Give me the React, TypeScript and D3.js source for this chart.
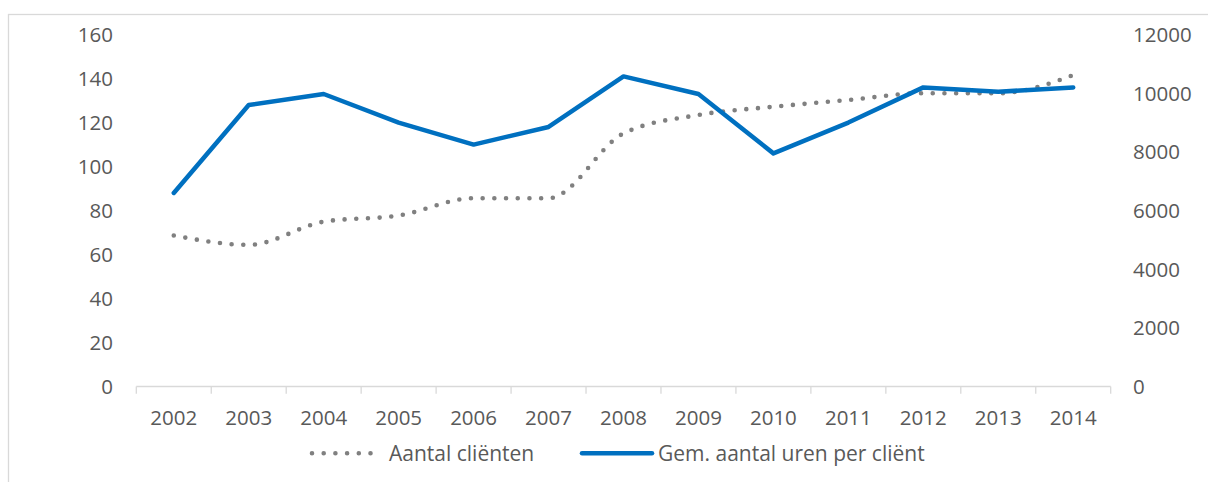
import React from "react";
import * as d3 from "d3";

const years = ["2002","2003","2004","2005","2006","2007","2008","2009","2010","2011","2012","2013","2014"];
const clients = [5150, 4830, 5620, 5830, 6420, 6420, 8630, 9260, 9540, 9770, 10000, 10000, 10620];
const hoursPerClient = [88, 128, 133, 120, 110, 118, 141, 133, 106, 120, 136, 134, 136];
const leftTicks = [0, 20, 40, 60, 80, 100, 120, 140, 160];
const rightTicks = [0, 2000, 4000, 6000, 8000, 10000, 12000];
const seriesNames = ["Aantal cliënten", "Gem. aantal uren per cliënt"];

const W = 1208, H = 482;
const FONT = "'Open Sans', sans-serif";
const TXT = "#595959";
const GRID = "#d9d9d9";
const BLUE = "#0070C0";
const GREY = "#808080";

export default function App() {
  const x = d3.scaleBand<string>().domain(years).range([136.3, 1110.7]).padding(0);
  const yL = d3.scaleLinear().domain([0, 160]).range([386.5, 34.6]);
  const yR = d3.scaleLinear().domain([0, 12000]).range([386.5, 34.6]);
  const cx = (y: string) => (x(y) as number) + x.bandwidth() / 2;

  const dotted = d3.line<number>()
    .x((_, i) => cx(years[i]))
    .y((d) => yR(d))
    .curve(d3.curveMonotoneX)(clients) as string;
  const solid = d3.line<number>()
    .x((_, i) => cx(years[i]))
    .y((d) => yL(d))(hoursPerClient) as string;

  const boundaries = years.map((y) => x(y) as number).concat([x.range()[1]]);
  const base = yL(0);

  return (
    <svg width={W} height={H} style={{ position: "absolute", left: 0, top: 0 }} fontFamily={FONT}>
      <rect x={0} y={0} width={W} height={H} fill="#fff" />
      <rect x={8.5} y={14.5} width={1230} height={500} fill="none" stroke={GRID} strokeWidth={1.3} />
      {/* x axis */}
      <line x1={x.range()[0]} x2={x.range()[1]} y1={base} y2={base} stroke={GRID} strokeWidth={1.3} />
      {boundaries.map((b, i) => (
        <line key={i} x1={b} x2={b} y1={base} y2={base + 7.3} stroke={GRID} strokeWidth={1.3} />
      ))}
      {years.map((y) => (
        <text key={y} x={cx(y)} y={425} textAnchor="middle" fontSize={20.5} fill={TXT}>{y}</text>
      ))}
      {leftTicks.map((t) => (
        <text key={t} x={113} y={yL(t) + 7.3} textAnchor="end" fontSize={20.5} fill={TXT}>{t}</text>
      ))}
      {rightTicks.map((t) => (
        <text key={t} x={1133} y={yR(t) + 7.3} textAnchor="start" fontSize={20.5} fill={TXT}>{t}</text>
      ))}
      {/* series */}
      <path d={dotted} fill="none" stroke={GREY} strokeWidth={4.6} strokeLinecap="round" strokeDasharray="0 11.7" />
      <path d={solid} fill="none" stroke={BLUE} strokeWidth={4.5} strokeLinejoin="round" strokeLinecap="round" />
      {/* legend */}
      <line x1={312} x2={376} y1={453.3} y2={453.3} stroke={GREY} strokeWidth={4.6} strokeLinecap="round" strokeDasharray="0 11.7" />
      <text x={389} y={461} fontSize={21} fill={TXT}>{seriesNames[0]}</text>
      <line x1={582} x2={652} y1={453.3} y2={453.3} stroke={BLUE} strokeWidth={4.5} strokeLinecap="round" />
      <text x={658} y={461} fontSize={21} fill={TXT}>{seriesNames[1]}</text>
    </svg>
  );
}
